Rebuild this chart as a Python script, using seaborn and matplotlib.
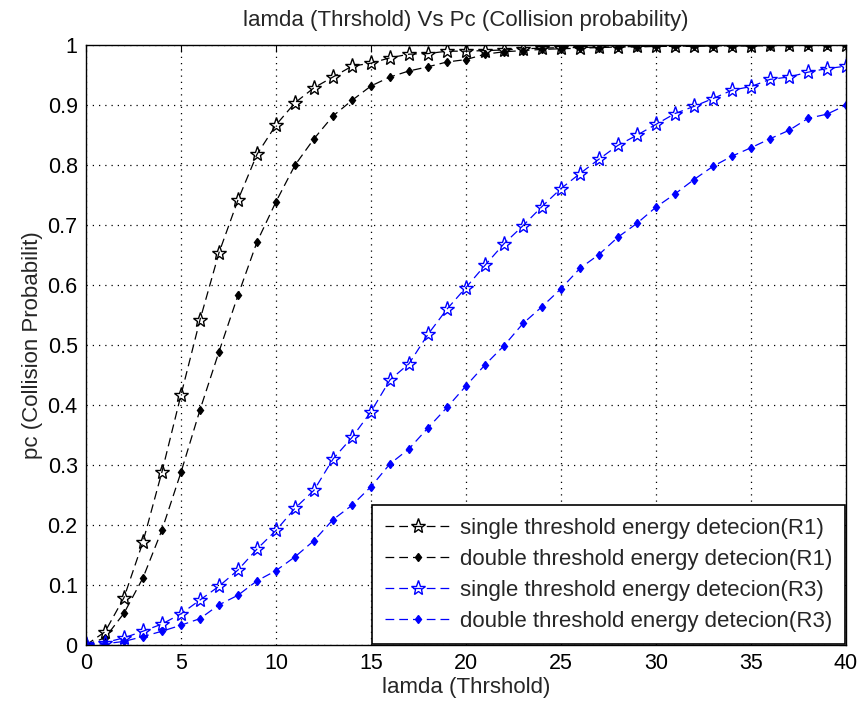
import numpy as np
import pandas as pd
import matplotlib
matplotlib.use("Agg")
import matplotlib.pyplot as plt
import seaborn as sns

lamda = list(range(0, 41))

single_r1 = [0.0, 0.022, 0.079, 0.172, 0.289, 0.417, 0.542, 0.654, 0.742, 0.818,
             0.867, 0.904, 0.929, 0.947, 0.965, 0.970, 0.979, 0.985, 0.986, 0.990,
             0.990, 0.991, 0.992, 0.994, 0.995, 0.996, 0.996, 0.997, 0.997, 0.998,
             0.998, 0.998, 0.999, 0.999, 0.999, 0.999, 1.0, 1.0, 1.0, 1.0, 1.0]
double_r1 = [0.0, 0.012, 0.053, 0.112, 0.192, 0.288, 0.392, 0.489, 0.583, 0.672,
             0.739, 0.800, 0.844, 0.882, 0.908, 0.932, 0.947, 0.957, 0.964, 0.972,
             0.976, 0.985, 0.989, 0.991, 0.993, 0.994, 0.995, 0.996, 0.997, 0.997,
             0.998, 0.998, 0.998, 0.999, 0.999, 0.999, 0.999, 1.0, 1.0, 1.0, 1.0]
single_r3 = [0.001, 0.004, 0.012, 0.023, 0.035, 0.052, 0.075, 0.098, 0.125, 0.160,
             0.191, 0.228, 0.258, 0.310, 0.346, 0.389, 0.442, 0.469, 0.518, 0.560,
             0.596, 0.633, 0.669, 0.699, 0.731, 0.761, 0.786, 0.810, 0.833, 0.850,
             0.868, 0.886, 0.898, 0.911, 0.925, 0.931, 0.943, 0.947, 0.955, 0.961, 0.965]
double_r3 = [0.0, 0.002, 0.006, 0.014, 0.023, 0.033, 0.044, 0.067, 0.083, 0.107,
             0.124, 0.147, 0.174, 0.209, 0.233, 0.264, 0.302, 0.327, 0.362, 0.396,
             0.432, 0.467, 0.499, 0.536, 0.564, 0.594, 0.628, 0.651, 0.680, 0.703,
             0.730, 0.752, 0.776, 0.798, 0.815, 0.829, 0.844, 0.858, 0.878, 0.885, 0.900]

labels = ["single threshold energy detecion(R1)",
          "double threshold energy detecion(R1)",
          "single threshold energy detecion(R3)",
          "double threshold energy detecion(R3)"]

sns.set_style("white")
plt.rcParams['font.family'] = ['Liberation Sans', 'DejaVu Sans']
plt.rcParams['xtick.direction'] = 'in'
plt.rcParams['ytick.direction'] = 'in'

FS = 16

fig = plt.figure(figsize=(8.6, 7.06), dpi=100)
ax = fig.add_axes([0.1, 0.0864, 0.8837, 0.8496])

series = [
    (single_r1, 'black', '*', 'none', 11),
    (double_r1, 'black', 'd', 'black', 4.5),
    (single_r3, 'blue', '*', 'none', 11),
    (double_r3, 'blue', 'd', 'blue', 4.5),
]
for (vals, col, mk, mfc, ms), lab in zip(series, labels):
    sns.lineplot(x=lamda, y=vals, ax=ax, color=col, marker=mk, markersize=ms,
                 markerfacecolor=mfc, markeredgecolor=col, markeredgewidth=1.0,
                 linewidth=0.9, dashes=False, label=lab)
for line in ax.get_lines():
    line.set_linestyle((0, (7, 4)))

ax.set_xlim(0, 40)
ax.set_ylim(0, 1)
ax.set_xticks(range(0, 41, 5))
ax.set_yticks(np.arange(0, 1.01, 0.1))
ax.set_yticklabels(["0", "0.1", "0.2", "0.3", "0.4", "0.5", "0.6", "0.7", "0.8", "0.9", "1"])
ax.tick_params(axis='both', labelsize=15.5, direction='in', length=5, width=0.8,
               top=True, right=True, colors='black', pad=6)
ax.grid(True, linestyle=(0, (1, 4)), color='black', linewidth=0.9)
for s in ax.spines.values():
    s.set_visible(True)
    s.set_color('black')
    s.set_linewidth(1.0)

ax.set_title("lamda (Thrshold) Vs Pc (Collision probability)", fontsize=FS, pad=14)
ax.set_xlabel("lamda (Thrshold)", fontsize=FS, labelpad=2)
ax.set_ylabel("pc (Collision Probabilit)", fontsize=FS, labelpad=3)

leg = ax.legend(loc='lower right', fontsize=FS, frameon=True, fancybox=False,
                edgecolor='black', framealpha=1, borderaxespad=0.05,
                handlelength=3.0, handletextpad=0.4, labelspacing=0.45,
                borderpad=0.55)
leg.get_frame().set_linewidth(1.2)

fig.savefig("out.png", dpi=100)
